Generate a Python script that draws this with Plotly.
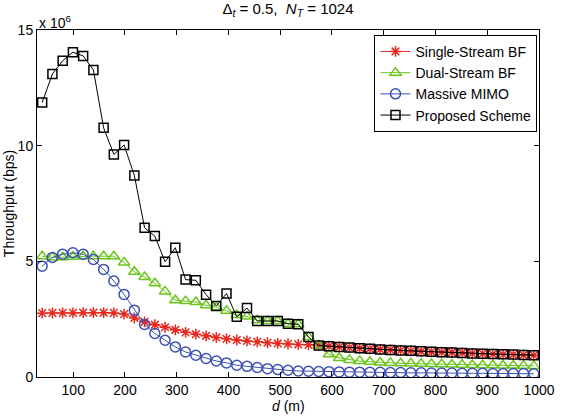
import plotly.graph_objects as go

# distance (m)
d = [40.0, 59.8, 79.6, 99.4, 119.2, 139.0, 158.7, 178.5, 198.3, 218.1,
     237.9, 257.7, 277.5, 297.3, 317.1, 336.9, 356.7, 376.5, 396.2, 416.0,
     435.8, 455.6, 475.4, 495.2, 515.0, 534.8, 554.6, 574.4, 594.2, 614.0,
     633.8, 653.5, 673.3, 693.1, 712.9, 732.7, 752.5, 772.3, 792.1, 811.9,
     831.7, 851.5, 871.2, 891.0, 910.8, 930.6, 950.4, 970.2, 990.0]

# throughput in units of 1e6 bps
single_stream = [2.76, 2.77, 2.77, 2.77, 2.78, 2.78, 2.78, 2.77, 2.72, 2.55,
                 2.38, 2.26, 2.15, 2.04, 1.93, 1.85, 1.78, 1.71, 1.65, 1.60,
                 1.56, 1.52, 1.48, 1.45, 1.43, 1.41, 1.39, 1.36, 1.33, 1.30,
                 1.27, 1.24, 1.22, 1.19, 1.17, 1.15, 1.13, 1.11, 1.09, 1.07,
                 1.06, 1.04, 1.02, 1.01, 0.99, 0.98, 0.97, 0.95, 0.94]

dual_stream = [5.22, 5.17, 5.18, 5.20, 5.22, 5.22, 5.22, 5.22, 4.95, 4.55,
               4.32, 4.05, 3.70, 3.32, 3.28, 3.24, 3.10, 3.02, 2.86, 2.68,
               2.62, 2.45, 2.42, 2.42, 2.30, 2.28, 1.73, 1.36, 0.98, 0.82,
               0.74, 0.69, 0.66, 0.63, 0.61, 0.59, 0.58, 0.57, 0.56, 0.55,
               0.54, 0.53, 0.52, 0.51, 0.51, 0.50, 0.50, 0.49, 0.48]

massive_mimo = [4.79, 5.17, 5.31, 5.37, 5.31, 5.08, 4.65, 4.15, 3.57, 2.89,
                2.27, 1.88, 1.59, 1.30, 1.08, 0.94, 0.80, 0.69, 0.61, 0.51,
                0.46, 0.41, 0.36, 0.32, 0.29, 0.26, 0.25, 0.24, 0.23, 0.22,
                0.21, 0.21, 0.20, 0.20, 0.19, 0.19, 0.18, 0.18, 0.17, 0.17,
                0.17, 0.16, 0.16, 0.16, 0.15, 0.15, 0.15, 0.15, 0.14]

proposed = [11.87, 13.10, 13.67, 14.04, 13.88, 13.27, 10.77, 9.62, 10.03, 8.71,
            6.45, 6.09, 4.98, 5.59, 4.21, 4.18, 3.56, 3.07, 3.61, 2.60,
            2.98, 2.42, 2.42, 2.42, 2.30, 2.28, 1.73, 1.36, 1.33, 1.30,
            1.27, 1.24, 1.22, 1.19, 1.17, 1.15, 1.13, 1.11, 1.09, 1.07,
            1.06, 1.04, 1.02, 1.01, 0.99, 0.98, 0.97, 0.95, 0.94]

x_ticks = [100, 200, 300, 400, 500, 600, 700, 800, 900, 1000]
y_ticks = [0, 5, 10, 15]
y_tick_labels = ["0", "5", "10", "15"]

FONT = "Liberation Sans, Arial, Helvetica, sans-serif"

fig = go.Figure()
fig.add_trace(go.Scatter(
    x=d, y=single_stream, name="Single-Stream BF", mode="lines+markers",
    line=dict(color="#e8281e", width=1),
    marker=dict(symbol="asterisk-open", size=9, line=dict(color="#e8281e", width=1.5))))
fig.add_trace(go.Scatter(
    x=d, y=dual_stream, name="Dual-Stream BF", mode="lines+markers",
    line=dict(color="#6cc51b", width=1),
    marker=dict(symbol="triangle-up-open", size=10, color="#6cc51b",
                line=dict(color="#6cc51b", width=1.5))))
fig.add_trace(go.Scatter(
    x=d, y=massive_mimo, name="Massive MIMO", mode="lines+markers",
    line=dict(color="#3c50b4", width=1),
    marker=dict(symbol="circle-open", size=10, color="#3c50b4",
                line=dict(color="#3c50b4", width=1.5))))
fig.add_trace(go.Scatter(
    x=d, y=proposed, name="Proposed Scheme", mode="lines+markers",
    line=dict(color="#000000", width=1),
    marker=dict(symbol="square-open", size=9, color="#000000",
                line=dict(color="#000000", width=1.5))))

fig.update_layout(
    width=567, height=420,
    margin=dict(l=37, r=16, t=30, b=43),
    paper_bgcolor="white", plot_bgcolor="white",
    font=dict(family=FONT, size=14, color="black"),
    title=dict(text="Δ<sub><i>t</i></sub> = 0.5,  <i>N</i><sub><i>T</i></sub> = 1024",
               x=0.5, xref="paper", xanchor="center",
               y=1 - 9 / 420, yref="container", yanchor="middle",
               font=dict(family=FONT, size=15, color="black")),
    showlegend=True,
    legend=dict(x=0.997, xanchor="right", y=0.986, yanchor="top",
                bgcolor="white", bordercolor="black", borderwidth=1,
                font=dict(family=FONT, size=14, color="black"),
                tracegroupgap=0),
)
fig.update_xaxes(range=[30, 1000], tickvals=x_ticks, ticks="inside", ticklen=5,
                 tickcolor="black", showline=True, linecolor="black", linewidth=1,
                 mirror="ticks", showgrid=False, zeroline=False,
                 tickfont=dict(family=FONT, size=14, color="black"))
fig.update_yaxes(range=[0, 15], tickvals=y_ticks, ticktext=y_tick_labels,
                 ticks="inside", ticklen=5,
                 tickcolor="black", showline=True, linecolor="black", linewidth=1,
                 mirror="ticks", showgrid=False, zeroline=False,
                 tickfont=dict(family=FONT, size=14, color="black"))

fig.add_annotation(text="x 10<sup>6</sup>", xref="paper", yref="paper",
                   x=0, y=1, xanchor="left", yanchor="bottom", showarrow=False,
                   yshift=-3, font=dict(family=FONT, size=14, color="black"))
fig.add_annotation(text="Throughput (bps)", xref="paper", yref="paper",
                   x=-29 / 513.7, y=0.5, xanchor="center", yanchor="middle",
                   textangle=-90, showarrow=False,
                   font=dict(family=FONT, size=14, color="black"))
fig.add_annotation(text="<i>d</i> (m)", xref="paper", yref="paper",
                   x=0.5, y=-(406 - 376.7) / 346.7, xanchor="center", yanchor="middle",
                   showarrow=False, font=dict(family=FONT, size=14, color="black"))

fig.write_html("out.html",
               config={"displayModeBar": False, "staticPlot": True},
               post_script="document.body.style.margin='0';document.body.style.padding='0';")
